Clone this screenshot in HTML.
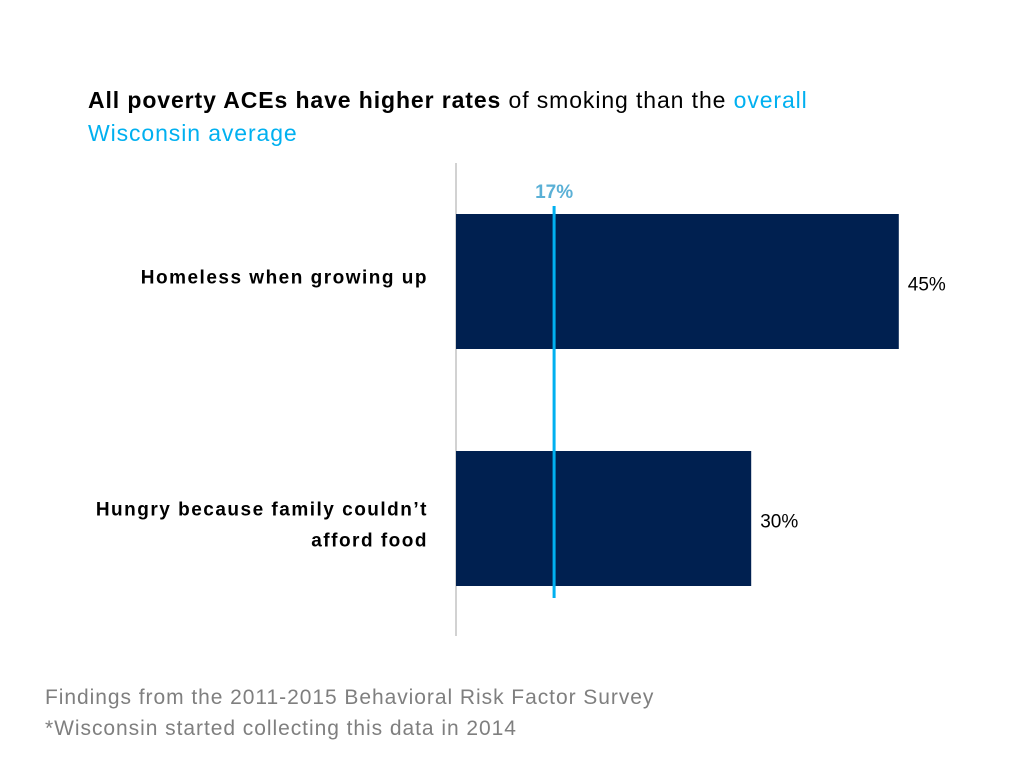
<!DOCTYPE html>
<html><head><meta charset="utf-8"><style>
body{margin:0;width:1024px;height:768px;background:#fff;font-family:"Liberation Sans",sans-serif;overflow:hidden;position:relative}
.t{position:absolute;white-space:nowrap}
</style></head><body>
<div class="t" style="left:88px;top:84px;font-size:23px;line-height:33px;color:#000;letter-spacing:0.9px">
<b>All poverty ACEs have higher rates</b> of smoking than the <span style="color:#00b0f0">overall<br>Wisconsin average</span></div>
<svg id="c" width="1024" height="768" style="position:absolute;left:0;top:0"></svg>
<div class="t" style="left:45px;top:682px;font-size:21px;line-height:31px;color:#7f7f7f;letter-spacing:0.95px">Findings from the 2011-2015 Behavioral Risk Factor Survey<br>*Wisconsin started collecting this data in 2014</div>
<script>
const categories=[["Homeless when growing up"],["Hungry because family couldn\u2019t","afford food"]];
const values=[45,30];
const valueLabels=["45%","30%"];
const average=[17];
const averageLabel=["17%"];
const NS="http://www.w3.org/2000/svg";
const svg=document.getElementById('c');
const x0=456,pxPer=9.84,pxPerSecondary=5.77;
function x(v){return x0+v*pxPer;}
function xAvg(v){return x0+v*pxPerSecondary;}
const bandTop=214,bandStep=237,barH=135;
function y(i){return bandTop+i*bandStep;}
function mk(t,a){const e=document.createElementNS(NS,t);for(const k in a)e.setAttribute(k,a[k]);svg.appendChild(e);return e;}
let ax=mk('line',{x1:x0,x2:x0,y1:163,y2:636,stroke:'#a6a6a6','stroke-width':1});


values.forEach((v,i)=>{
  const r=mk('rect',{x:x(0),y:y(i),width:x(v)-x(0),height:barH,fill:'#002050'});
  
  
  const t=mk('text',{x:x(v)+9,y:y(i)+barH/2+9,'font-size':19,fill:'#000'});
  t.textContent=valueLabels[i];
  
  
  const lines=categories[i];
  const cy=y(i)+barH/2+(lines.length===1?2:-3);
  lines.forEach((ln,j)=>{
    const c=mk('text',{x:428,y:cy+j*31,'font-size':19,'font-weight':'bold','text-anchor':'end',fill:'#000','letter-spacing':'1.5'});
    c.textContent=ln;
    
    
  });
});
const ax2=xAvg(average[0]);
const al=mk('line',{x1:ax2,x2:ax2,y1:206,y2:598,stroke:'#00b0f0','stroke-width':3});


const at=mk('text',{x:ax2,y:198,'font-size':19,'font-weight':'bold','text-anchor':'middle',fill:'#5ab0d6'});
at.textContent=averageLabel[0];


</script>
</body></html>
